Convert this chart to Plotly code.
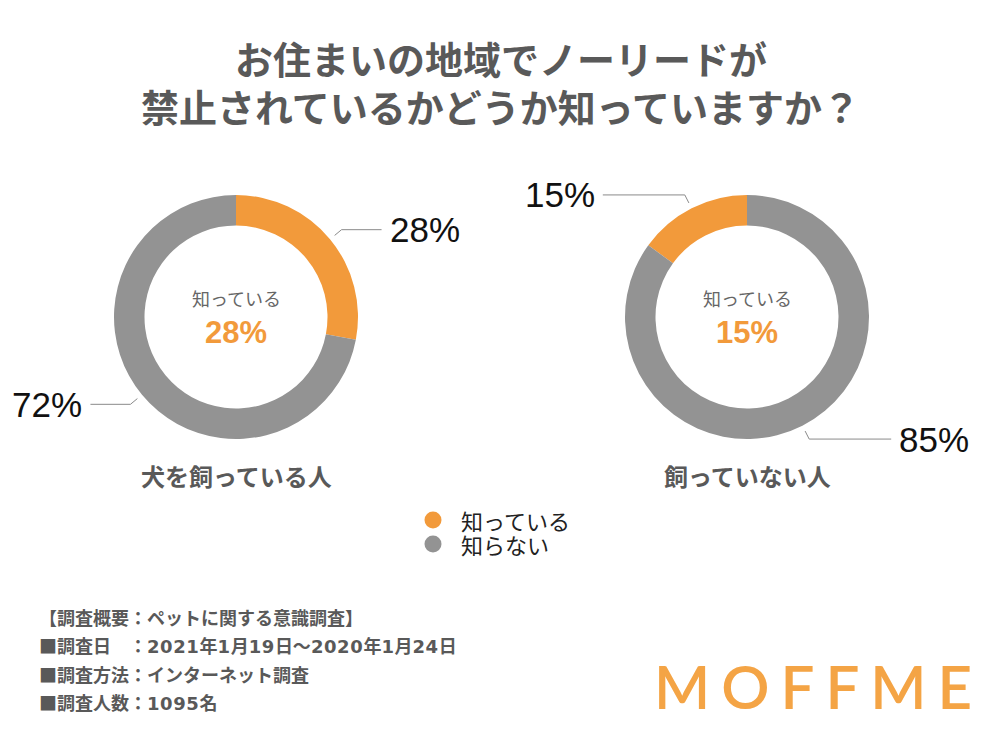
import math
import re
import plotly.graph_objects as go

# ---------------- data ----------------
title_lines = ["お住まいの地域でノーリードが", "禁止されているかどうか知っていますか？"]
answer_labels = ["知っている", "知らない"]
groups = ["犬を飼っている人", "飼っていない人"]
dog_owners = [28, 72]
non_owners = [15, 85]
center_caption = "知っている"
notes = [
    "【調査概要：ペットに関する意識調査】",
    "■調査日　：2021年1月19日～2020年1月24日",
    "■調査方法：インターネット調査",
    "■調査人数：1095名",
]
brand = "MOFFME"

# ---------------- layout / style ----------------
W, H = 1001, 749
ORANGE = "#F29A3B"
GRAY = "#939393"
COLORS = [ORANGE, GRAY]
TEXT_GRAY = "#595959"
JP = "Noto Sans CJK JP"
LAT = "Liberation Sans"

CY = 317
R = 122
charts = [
    dict(values=dog_owners, name=groups[0], cx=236, ccw=False, arm=40),
    dict(values=non_owners, name=groups[1], cx=747, ccw=True, arm=82),
]


def px(x):
    return x / W


def py(y):
    return 1 - y / H


fig = go.Figure()
annotations = []
shapes = []

for ch in charts:
    cx = ch["cx"]
    vals = ch["values"]
    total = sum(vals)
    # first slice starts at 12 o'clock; for the ccw chart it ends at 12 o'clock
    rot = -360 * vals[0] / total if ch["ccw"] else 0
    fig.add_trace(go.Pie(
        values=vals,
        labels=answer_labels,
        hole=0.75,
        sort=False,
        direction="clockwise",
        rotation=rot,
        marker=dict(colors=COLORS, line=dict(width=0)),
        textinfo="none",
        hoverinfo="label+percent",
        showlegend=False,
        domain=dict(x=[px(cx - R), px(cx + R)], y=[py(CY + R), py(CY - R)]),
        name=ch["name"],
    ))

    # outside labels with leader lines, derived from slice mid-angles
    cum = 0
    for v in vals:
        mid = (cum + v / 2) / total
        cum += v
        th = math.radians(rot + 360 * mid)
        s, c = math.sin(th), math.cos(th)
        x1, y1 = cx + (R + 6) * s, CY - (R + 6) * c
        x2, y2 = cx + (R + 15) * s, CY - (R + 15) * c
        side = 1 if s > 0 else -1
        x3 = x2 + side * ch["arm"]
        shapes.append(dict(
            type="path", xref="paper", yref="paper",
            path=f"M {px(x1)} {py(y1)} L {px(x2)} {py(y2)} L {px(x3)} {py(y2)}",
            line=dict(color="#8a8a8a", width=1),
        ))
        annotations.append(dict(
            x=px(x3 + side * 6), y=py(y2), xref="paper", yref="paper",
            text=f"{v}%", showarrow=False,
            xanchor="left" if side > 0 else "right", yanchor="middle",
            font=dict(family=LAT, size=35, color="#111111"),
        ))

    # center text
    annotations.append(dict(
        x=px(cx), y=py(298), xref="paper", yref="paper", text=center_caption,
        showarrow=False, xanchor="center", yanchor="middle",
        font=dict(family=JP, size=18, color="#666666"),
    ))
    annotations.append(dict(
        x=px(cx), y=py(332), xref="paper", yref="paper", text=f"<b>{vals[0]}%</b>",
        showarrow=False, xanchor="center", yanchor="middle",
        font=dict(family=LAT, size=31, color=ORANGE),
    ))
    # group label
    annotations.append(dict(
        x=px(cx), y=py(475), xref="paper", yref="paper", text=f"<b>{ch['name']}</b>",
        showarrow=False, xanchor="center", yanchor="middle",
        font=dict(family=JP, size=24, color=TEXT_GRAY),
    ))

# title
for i, t in enumerate(title_lines):
    annotations.append(dict(
        x=0.5, y=py(57 + 48 * i), xref="paper", yref="paper", text=f"<b>{t}</b>",
        showarrow=False, xanchor="center", yanchor="middle",
        font=dict(family=JP, size=38, color=TEXT_GRAY),
    ))

# legend (manual, compact spacing)
for i, (lab, col) in enumerate(zip(answer_labels, COLORS)):
    yc = 520 + 24 * i
    shapes.append(dict(
        type="circle", xref="paper", yref="paper",
        x0=px(433 - 8.5), x1=px(433 + 8.5), y0=py(yc + 8.5), y1=py(yc - 8.5),
        fillcolor=col, line=dict(width=0),
    ))
    annotations.append(dict(
        x=px(459), y=py(yc), xref="paper", yref="paper", text=lab,
        showarrow=False, xanchor="left", yanchor="middle",
        font=dict(family=JP, size=22, color="#222222"),
    ))


# notes (digits in a wider face to match the original typeface)
def widen_digits(t):
    return re.sub(r"(\d+)", r"<span style='font-family:DejaVu Sans;letter-spacing:0.6px'>\1</span>", t)


for i, t in enumerate(notes):
    annotations.append(dict(
        x=px(37), y=py(617 + 28.4 * i), xref="paper", yref="paper",
        text=f"<b>{widen_digits(t)}</b>",
        showarrow=False, xanchor="left", yanchor="middle",
        font=dict(family=JP, size=18, color=TEXT_GRAY),
    ))

# brand logo
annotations.append(dict(
    x=px(818), y=py(686), xref="paper", yref="paper",
    text=f"<span style='letter-spacing:11px;font-weight:600'>{brand}</span>",
    showarrow=False, xanchor="center", yanchor="middle",
    font=dict(family="Lato", size=60, color="#F4A445"),
))

fig.update_layout(
    width=W, height=H,
    margin=dict(l=0, r=0, t=0, b=0),
    paper_bgcolor="white", plot_bgcolor="white",
    annotations=annotations, shapes=shapes,
    showlegend=False,
)

fig.write_html("out.html")
